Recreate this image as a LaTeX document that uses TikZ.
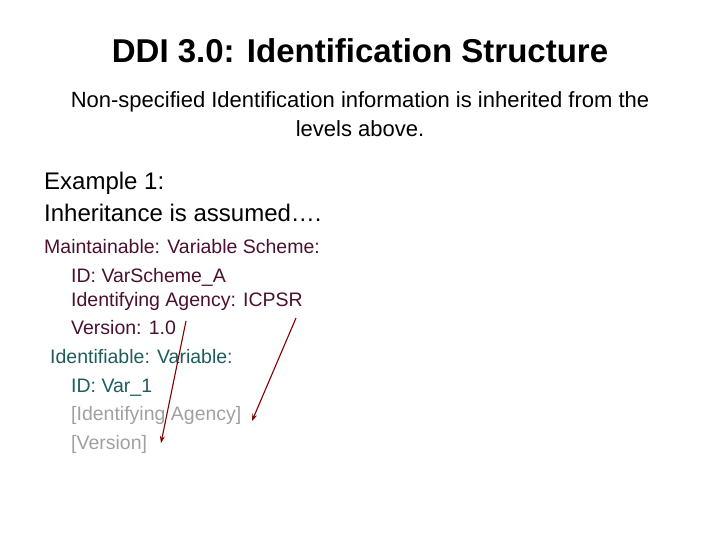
\documentclass[tikz,border=0pt]{standalone}
\usepackage{fontspec}
\usetikzlibrary{arrows.meta}
\setmainfont{Liberation Sans}
\definecolor{maroon}{HTML}{4A1030}
\definecolor{tealc}{HTML}{1F5C5C}
\definecolor{grayc}{HTML}{A0A0A0}
\definecolor{arr}{HTML}{800000}
\begin{document}
\begin{tikzpicture}[x=1pt,y=-1pt,
  txt/.style={anchor=base west,inner sep=0pt,font=\fontsize{24}{28}\selectfont},
  sm/.style={anchor=base west,inner sep=0pt,font=\fontsize{19.5}{23}\selectfont},
  arrw/.style={draw=arr,line width=1.1pt,-{Stealth[length=7pt,width=5pt]}}]
\useasboundingbox (0,0) rectangle (720,540);
\node[anchor=base,inner sep=0pt,font=\bfseries\fontsize{33}{38}\selectfont] (title) at (360,63) {DDI 3.0: Identification Structure};
\node[anchor=base,inner sep=0pt,font=\fontsize{22}{26}\selectfont] (s1) at (360,108) {Non-specified Identification information is inherited from the};
\node[anchor=base,inner sep=0pt,font=\fontsize{22}{26}\selectfont] (s2) at (360,137) {levels above.};
\node[txt] (e1) at (44,190) {Example 1:};
\node[txt] (e2) at (44,222) {Inheritance is assumed….};
\node[sm,text=maroon] (m) at (44,253) {Maintainable: Variable Scheme:};
\node[sm,text=maroon] (m1) at (71,282) {ID: VarScheme\_A};
\node[sm,text=maroon] (m2) at (71,306) {Identifying Agency: ICPSR};
\node[sm,text=maroon] (m3) at (71,334) {Version: 1.0};
\node[sm,text=tealc] (i) at (50,363) {Identifiable: Variable:};
\node[sm,text=tealc] (i1) at (71,392) {ID: Var\_1};
\node[sm,text=grayc] (i2) at (71,420) {[Identifying Agency]};
\node[sm,text=grayc] (i3) at (71,449) {[Version]};
\coordinate (a1s) at (186,321);
\coordinate (a1e) at (161,443);
\coordinate (a2s) at (296,318);
\coordinate (a2e) at (252,421);
\draw[arrw] (a1s) -- (a1e);
\draw[arrw] (a2s) -- (a2e);
\end{tikzpicture}
\end{document}
